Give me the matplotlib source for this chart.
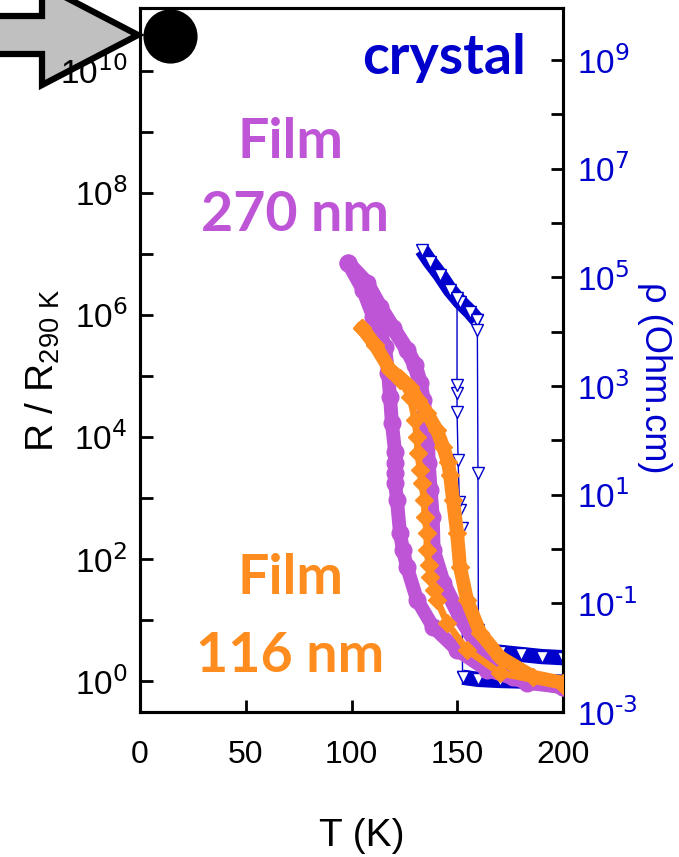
import numpy as np
import matplotlib
matplotlib.use('Agg')
import matplotlib.pyplot as plt
from matplotlib.patches import Polygon
from matplotlib.ticker import FixedLocator, FuncFormatter, NullLocator

plt.rcParams['font.family'] = ['Liberation Sans', 'DejaVu Sans']
plt.rcParams['mathtext.default'] = 'regular'

PURPLE = '#BE55D7'
ORANGE = '#FF8C1E'
BLUE = '#0000CD'

# film 270 nm : log10(R/R290K) vs T, both branches of the loop
f270_low_T = [98.3, 105.4, 110.2, 113.5, 115.8, 117.3, 118.2, 119.1, 120.6, 120.6,
              120.6, 120.6, 121.5, 122.9, 124.3, 126.2, 131.0, 138.5, 149.9, 164.1,
              183.0, 200.0]
f270_low_logR = [6.85, 6.41, 5.97, 5.75, 5.48, 5.05, 4.66, 4.23, 3.75, 3.57,
                 3.41, 3.25, 2.97, 2.43, 2.15, 1.87, 1.33, 0.89, 0.51, 0.18,
                 -0.03, -0.10]
f270_high_T = [98.3, 107.3, 113.5, 119.6, 126.2, 130.0, 132.4, 133.8, 135.7, 136.2,
               137.1, 138.1, 138.5, 143.3, 151.3, 160.8, 176.4, 200.0]
f270_high_logR = [6.85, 6.52, 6.13, 5.79, 5.43, 5.18, 4.89, 4.61, 4.11, 3.57,
                  3.13, 2.69, 2.15, 1.61, 1.05, 0.51, 0.07, -0.10]

# film 116 nm
f116_low_T = [105.0, 111.1, 118.2, 122.9, 127.7, 130.0, 131.0, 131.4, 132.4, 133.3,
              134.3, 134.8, 135.7, 135.7, 136.6, 137.1, 139.0, 140.4, 145.2, 154.6,
              170.2, 200.0]
f116_low_logR = [5.79, 5.51, 5.10, 4.93, 4.66, 4.28, 4.00, 3.74, 3.46, 3.25,
                 2.97, 2.69, 2.43, 2.15, 1.90, 1.70, 1.49, 1.33, 0.95, 0.51,
                 0.13, -0.07]
f116_high_T = [105.0, 111.1, 118.2, 122.9, 127.7, 131.4, 135.7, 140.4, 143.3, 145.6,
               146.6, 148.0, 149.9, 151.3, 154.6, 160.8, 170.2, 185.8, 200.0]
f116_high_logR = [5.79, 5.51, 5.10, 4.97, 4.82, 4.61, 4.39, 4.11, 3.84, 3.59,
                  3.38, 2.97, 2.43, 1.87, 1.33, 0.79, 0.39, 0.07, -0.03]

# crystal : log10(rho / Ohm.cm)
xtal_band_T = [133.3, 137.1, 141.8, 146.6, 151.3, 156.0, 159.3]
xtal_band_logrho = [5.51, 5.29, 5.05, 4.77, 4.55, 4.37, 4.22]
xtal_warm_jump_T = [159.3, 159.5, 159.8, 160.0, 160.2, 160.8]
xtal_warm_jump_logrho = [4.22, 4.04, 1.40, -1.49, -1.80, -1.86]
xtal_warm_flat_T = [160.8, 170.0, 180.0, 190.0, 200.0]
xtal_warm_flat_logrho = [-1.86, -1.90, -1.94, -1.98, -2.00]
xtal_cool_flat_T = [200.0, 190.0, 180.0, 170.0, 160.0, 152.5]
xtal_cool_flat_logrho = [-2.45, -2.44, -2.43, -2.42, -2.40, -2.36]
xtal_cool_jump_T = [152.5, 152.2, 151.3, 151.0, 150.4, 149.9, 149.9, 149.9, 149.9]
xtal_cool_jump_logrho = [-2.36, 0.39, 0.72, 0.87, 1.64, 2.52, 2.87, 3.02, 4.62]

# big black dot in the corner
dot_T = 14.2
dot_logR = 10.57

left_exps = list(range(0, 11))
right_exps = list(range(-3, 10))
x_ticks = [0, 50, 100, 150, 200]


def exp_label(keep_odd):
  def fmt(v, pos):
    e = int(round(np.log10(v)))
    if (e % 2 == 1) == keep_odd:
      return r'$10^{\text{%d}}$' % e
    return ''
  return fmt


fig = plt.figure(figsize=(6.79, 8.57), dpi=100)
ax = fig.add_axes([140/679, 1-712/857, 423/679, 704/857])
ax2 = ax.twinx()
ax.set_zorder(2)
ax.patch.set_visible(False)

# films on the left axis
ax.plot(f270_low_T, 10**np.array(f270_low_logR), '-', color=PURPLE, lw=10,
        marker='o', ms=12, solid_capstyle='round', zorder=3)
ax.plot(f270_high_T, 10**np.array(f270_high_logR), '-', color=PURPLE, lw=11,
        marker='o', ms=12, solid_capstyle='round', zorder=3)
ax.plot(f116_low_T, 10**np.array(f116_low_logR), '-', color=ORANGE, lw=5,
        marker='D', ms=9, solid_capstyle='round', zorder=4)
ax.plot(f116_high_T, 10**np.array(f116_high_logR), '-', color=ORANGE, lw=10,
        marker='D', ms=9, solid_capstyle='round', zorder=4)

ax.plot([dot_T], [10**dot_logR], 'o', color='black', ms=38, clip_on=False, zorder=10)

# crystal on the right axis
tri = dict(marker='v', ms=9, mfc='white', mec=BLUE, mew=1.0)
for T, lr in [(xtal_band_T, xtal_band_logrho),
              (xtal_warm_flat_T, xtal_warm_flat_logrho),
              (xtal_cool_flat_T, xtal_cool_flat_logrho)]:
  ax2.plot(T, 10**np.array(lr), '-', color=BLUE, lw=11, solid_capstyle='butt', zorder=2)
  ax2.plot(T, 10**np.array(lr), ls='none', zorder=3, **tri)
for T, lr in [(xtal_warm_jump_T, xtal_warm_jump_logrho),
              (xtal_cool_jump_T, xtal_cool_jump_logrho)]:
  ax2.plot(T, 10**np.array(lr), '-', color=BLUE, lw=1.0, zorder=3, **tri)

# axes setup
ax.set_xlim(0, 200)
ax.set_yscale('log')
ax.set_ylim(10**-0.508, 10**11.03)
ax2.set_yscale('log')
ax2.set_ylim(1e-3, 10**9.96)

ax.xaxis.set_major_locator(FixedLocator(x_ticks))
ax.yaxis.set_major_locator(FixedLocator([10.0**e for e in left_exps]))
ax.yaxis.set_minor_locator(NullLocator())
ax.yaxis.set_major_formatter(FuncFormatter(exp_label(False)))
ax2.yaxis.set_major_locator(FixedLocator([10.0**e for e in right_exps]))
ax2.yaxis.set_minor_locator(NullLocator())
ax2.yaxis.set_major_formatter(FuncFormatter(exp_label(True)))

ax.tick_params(axis='x', direction='in', length=9, width=2, labelsize=23, pad=20, top=False)
ax.tick_params(axis='y', direction='in', length=9, width=2, labelsize=24, pad=9, right=False)
ax2.tick_params(axis='y', direction='in', length=9, width=2, labelsize=24, pad=10,
                labelcolor=BLUE, colors='black')
for tl in ax2.get_yticklabels():
  tl.set_color(BLUE)

for a in (ax, ax2):
  for s in a.spines.values():
    s.set_linewidth(2.2)

ax.set_xlabel('T (K)', fontsize=28)
ax.xaxis.set_label_coords(0.525, -0.151)
ax.set_ylabel(r'R / R$_{290\ K}$', fontsize=28, va='center', ha='center')
ax.yaxis.set_label_coords(-0.23, 0.485)
ax2.set_ylabel(r'ρ (Ohm.cm)', fontsize=26, color=BLUE, rotation=270, va='center', ha='center')
ax2.yaxis.set_label_coords(1.217, 0.475)

big = dict(family=['Lato', 'DejaVu Sans'], fontweight='bold', fontsize=40,
           ha='center', va='center', transform=ax.transAxes, zorder=6)
ax.text(0.72, 0.929, 'crystal', color=BLUE, **big)
ax.text(0.355, 0.810, 'Film', color=PURPLE, **big)
ax.text(0.367, 0.706, '270 nm', color=PURPLE, **big)
ax.text(0.355, 0.190, 'Film', color=ORANGE, **big)
ax.text(0.355, 0.080, '116 nm', color=ORANGE, **big)

# grey arrow pointing at the dot (pixel outline -> figure fraction)
arrow_px = [(-10, 16), (42, 16), (42, -15), (138, 35), (42, 85), (42, 54), (-10, 54)]
arrow = Polygon([(x/679, 1-y/857) for x, y in arrow_px], closed=True,
                facecolor='#C0C0C0', edgecolor='black', lw=4.5,
                transform=fig.transFigure, zorder=-1, joinstyle='miter')
fig.add_artist(arrow)

fig.savefig('out.png', dpi=100)
